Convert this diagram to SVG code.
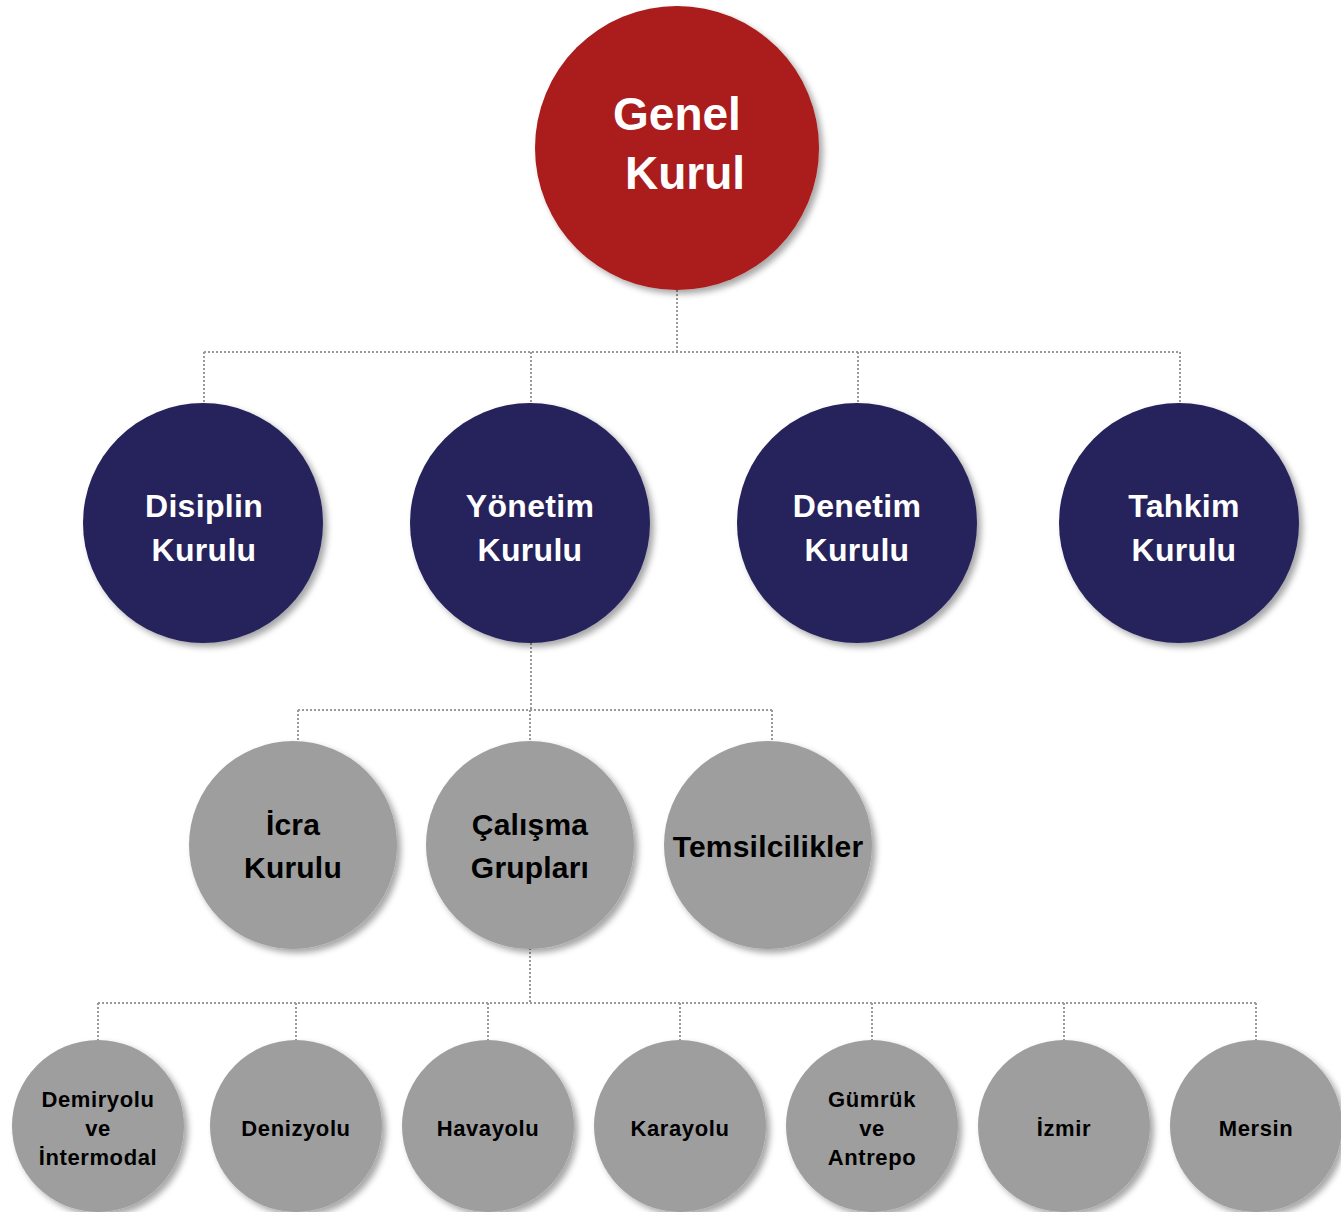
<svg xmlns="http://www.w3.org/2000/svg" width="1341" height="1212" viewBox="0 0 1341 1212">
<defs>
<filter id="sh" x="-20%" y="-20%" width="140%" height="140%">
<feDropShadow dx="4" dy="4" stdDeviation="3" flood-color="#000" flood-opacity="0.35"/>
</filter>
<style>
.red{fill:#AB1A1A;filter:url(#sh)}
.navy{fill:#25245C;filter:url(#sh)}
.gray{fill:#9E9E9E;filter:url(#sh)}
text{font-family:"Liberation Sans",Arial,sans-serif;font-weight:bold;text-anchor:middle}
.t1{fill:#fff;font-size:46px}
.t2{fill:#fff;font-size:32px;letter-spacing:0.3px}
.t3{fill:#000;font-size:30px;letter-spacing:0.2px}
.t4{fill:#000;font-size:22px;letter-spacing:0.6px}
.c{fill:none;stroke:#9a9a9a;stroke-width:2;stroke-dasharray:2 2}
</style>
</defs>
<rect width="1341" height="1212" fill="#fff"/>
<g id="connectors">
<path class="c" d="M677 290V352M204 352H1180M204 352V403M531 352V403M858 352V403M1180 352V403"/>
<path class="c" d="M531 643V710M298 710H772M298 710V741M530 710V741M772 710V741"/>
<path class="c" d="M530 948V1003M98 1003H1256M98 1003V1040M296 1003V1040M488 1003V1040M680 1003V1040M872 1003V1040M1064 1003V1040M1256 1003V1040"/>
</g>
<g id="genel-kurul"><circle class="red" cx="677" cy="148" r="142"/><text class="t1" x="677" y="130">Genel</text><text class="t1" x="685" y="189">Kurul</text></g>
<g id="disiplin-kurulu"><circle class="navy" cx="203" cy="523" r="120"/><text class="t2" x="204" y="517">Disiplin</text><text class="t2" x="204" y="561">Kurulu</text></g>
<g id="yonetim-kurulu"><circle class="navy" cx="530" cy="523" r="120"/><text class="t2" x="530" y="517">Yönetim</text><text class="t2" x="530" y="561">Kurulu</text></g>
<g id="denetim-kurulu"><circle class="navy" cx="857" cy="523" r="120"/><text class="t2" x="857" y="517">Denetim</text><text class="t2" x="857" y="561">Kurulu</text></g>
<g id="tahkim-kurulu"><circle class="navy" cx="1179" cy="523" r="120"/><text class="t2" x="1184" y="517">Tahkim</text><text class="t2" x="1184" y="561">Kurulu</text></g>
<g id="icra-kurulu"><circle class="gray" cx="293" cy="845" r="104"/><text class="t3" x="293" y="835">İcra</text><text class="t3" x="293" y="878">Kurulu</text></g>
<g id="calisma-gruplari"><circle class="gray" cx="530" cy="845" r="104"/><text class="t3" x="530" y="835">Çalışma</text><text class="t3" x="530" y="878">Grupları</text></g>
<g id="temsilcilikler"><circle class="gray" cx="768" cy="845" r="104"/><text class="t3" x="768" y="857">Temsilcilikler</text></g>
<g id="demiryolu"><circle class="gray" cx="98" cy="1126" r="86"/><text class="t4" x="98" y="1107">Demiryolu</text><text class="t4" x="98" y="1136">ve</text><text class="t4" x="98" y="1165">İntermodal</text></g>
<g id="denizyolu"><circle class="gray" cx="296" cy="1126" r="86"/><text class="t4" x="296" y="1136">Denizyolu</text></g>
<g id="havayolu"><circle class="gray" cx="488" cy="1126" r="86"/><text class="t4" x="488" y="1136">Havayolu</text></g>
<g id="karayolu"><circle class="gray" cx="680" cy="1126" r="86"/><text class="t4" x="680" y="1136">Karayolu</text></g>
<g id="gumruk"><circle class="gray" cx="872" cy="1126" r="86"/><text class="t4" x="872" y="1107">Gümrük</text><text class="t4" x="872" y="1136">ve</text><text class="t4" x="872" y="1165">Antrepo</text></g>
<g id="izmir"><circle class="gray" cx="1064" cy="1126" r="86"/><text class="t4" x="1064" y="1136">İzmir</text></g>
<g id="mersin"><circle class="gray" cx="1256" cy="1126" r="86"/><text class="t4" x="1256" y="1136">Mersin</text></g>
</svg>
